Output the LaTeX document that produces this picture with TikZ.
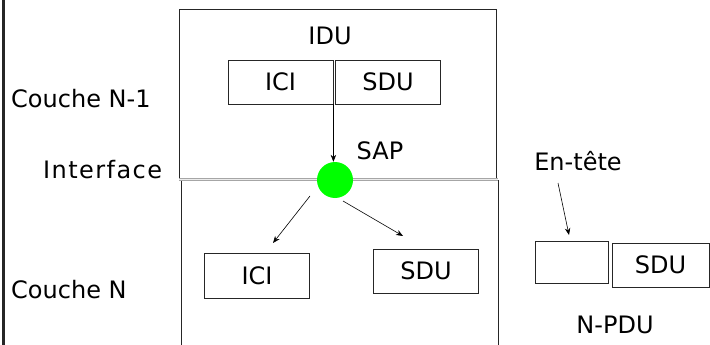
\documentclass[tikz,border=0pt]{standalone}
\usepackage{fontspec}
\setmainfont{DejaVu Sans}
\usetikzlibrary{arrows.meta}
\begin{document}
\begin{tikzpicture}[x=1pt,y=-1pt,
  lbl/.style={inner sep=0pt, font=\fontsize{24}{28}\selectfont},
  pbox/.style={draw=black!85, line width=0.8pt, minimum width=#1, minimum height=44pt, inner sep=0pt, font=\fontsize{24}{28}\selectfont},
  pbox/.default=105pt,
  frame/.style={draw=black!85, line width=0.8pt},
  arr/.style={-{Stealth[length=7pt,width=5.5pt]}, line width=0.6pt},
  sapdot/.style={circle, fill=green, minimum size=36pt, inner sep=0pt}]
\useasboundingbox (0,0) rectangle (710,345);
% left margin bar
\draw[line width=3pt, black!85] (3,0) -- (3,345);
% layer N-1 box and layer N box
\draw[frame] (179,178) -- (179,9) -- (496,9) -- (496,178);
\draw[frame] (181,345) -- (181,180) (498,180) -- (498,345);
% interface line
\draw[gray!70, double=gray!15, double distance=1pt, line width=0.9pt] (179,179.5) -- (498,179.5);
% texts
\node[lbl] (idu) at (330,36) {IDU};
\node[lbl, anchor=west] (cn1) at (11,99) {Couche N-1};
\node[lbl, anchor=west] (itf) at (43,170) {\addfontfeatures{LetterSpace=6}Interface};
\node[lbl] (saplbl) at (380,151) {SAP};
\node[lbl, anchor=west] (cn) at (11,290) {Couche N};
\node[lbl] (entete) at (578,161) {En-tête};
\node[lbl] (npdu) at (615,325) {N-PDU};
% IDU = ICI + SDU
\node[pbox, minimum height=44pt] (iciA) at (280.5,82) {ICI};
\node[pbox, minimum height=44pt] (sduA) at (388,82) {SDU};
% service access point
\node[sapdot] (sap) at (335,180) {};
% layer N
\node[pbox, minimum height=45pt] (iciB) at (257,275.5) {ICI};
\node[pbox, minimum height=44pt] (sduB) at (426,271) {SDU};
% N-PDU
\node[pbox=73pt, minimum height=42pt] (hdr) at (571.5,262) {};
\node[pbox=97pt, minimum height=44pt] (sduC) at (660.5,265) {SDU};
% arrows
\coordinate (a1s) at (310,196);
\coordinate (a1e) at (273,243);
\coordinate (a2s) at (343,201);
\coordinate (a2e) at (403,236);
\coordinate (a3s) at (558,183);
\coordinate (a3e) at (569,235);
\draw[arr] (iciA.south east) -- (iciA.south east |- sap.north);
\draw[arr] (a1s) -- (a1e);
\draw[arr] (a2s) -- (a2e);
\draw[arr] (a3s) -- (a3e);
\end{tikzpicture}
\end{document}
